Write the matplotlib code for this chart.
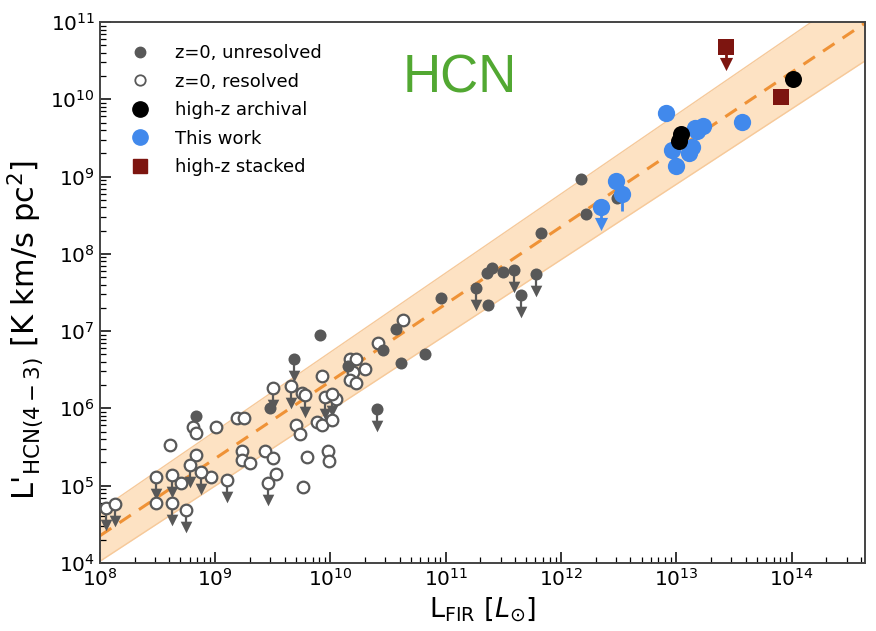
import numpy as np
import matplotlib
matplotlib.use("Agg")
import matplotlib.pyplot as plt
from matplotlib.lines import Line2D

# All luminosities stored as log10 values.
# L_FIR in L_sun, L'_HCN(4-3) in K km/s pc^2

# z=0, unresolved: detections
unres_lfir = [8.83, 9.48, 9.91, 10.15, 10.46, 10.57, 10.61, 10.82, 10.96, 11.37,
              11.36, 11.40, 11.50, 11.83, 12.17, 12.22, 12.49]
unres_lhcn = [5.90, 6.01, 6.95, 6.55, 6.76, 7.03, 6.59, 6.70, 7.43, 7.34,
              7.75, 7.82, 7.76, 8.27, 8.97, 8.51, 8.72]
# z=0, unresolved: upper limits
unres_ul_lfir = [9.68, 10.40, 11.26, 11.59, 11.65, 11.78]
unres_ul_lhcn = [6.64, 5.99, 7.56, 7.79, 7.47, 7.74]

# z=0, resolved: detections
res_lfir = [8.81, 8.83, 9.01, 9.19, 9.25, 8.61, 8.83, 8.70, 8.49, 8.96,
            9.23, 9.23, 9.30, 9.43, 9.50, 9.53, 9.75, 10.05, 9.88, 9.93,
            10.01, 9.70, 9.74, 9.93, 10.17, 10.22, 10.20, 10.30, 10.17, 10.22,
            10.41, 10.63, 9.80, 9.76, 9.98, 9.99]
res_lhcn = [5.76, 5.68, 5.76, 5.88, 5.88, 5.53, 5.40, 5.03, 4.78, 5.11,
            5.45, 5.33, 5.29, 5.45, 5.36, 5.15, 6.20, 6.12, 5.82, 5.79,
            5.85, 5.79, 5.67, 6.42, 6.64, 6.64, 6.47, 6.51, 6.37, 6.33,
            6.85, 7.14, 5.37, 4.98, 5.45, 5.32]
# z=0, resolved: upper limits
res_ul_lfir = [8.05, 8.13, 8.49, 8.63, 8.63, 8.75, 8.78, 8.88, 9.10, 9.46,
               9.50, 9.66, 9.78, 9.95, 10.01]
res_ul_lhcn = [4.71, 4.76, 5.11, 5.14, 4.78, 4.69, 5.27, 5.18, 5.07, 5.03,
               6.26, 6.29, 6.17, 6.15, 6.19]

# high-z archival
arch_lfir = [14.01, 13.04, 13.02]
arch_lhcn = [10.26, 9.55, 9.46]

# This work: detections (with lower error in dex)
work_lfir = [12.91, 13.16, 13.23, 13.18, 12.96, 13.14, 13.11, 13.00, 13.57, 12.48, 12.53]
work_lhcn = [9.82, 9.63, 9.65, 9.59, 9.34, 9.38, 9.30, 9.14, 9.71, 8.94, 8.77]
work_err_lo = [0.0, 0.0, 0.0, 0.0, 0.0, 0.0, 0.0, 0.0, 0.08, 0.0, 0.22]
# This work: upper limits
work_ul_lfir = [12.35]
work_ul_lhcn = [8.61]

# high-z stacked
stack_lfir = [13.91]
stack_lhcn = [10.03]
stack_ul_lfir = [13.43]
stack_ul_lhcn = [10.68]

# Linear fit in log space; the scatter band widens slowly with L_FIR
fit_slope = 1.0
fit_intercept = -3.65
band_width0 = 0.33      # half-width (dex) at L_FIR = 1e8
band_growth = 0.024     # extra dex per dex in L_FIR

GRAY = "#585858"
BLUE = "#4189ec"
DARKRED = "#7d1510"
ORANGE = "#ef9236"
BAND = "#fde2c3"

XMIN, XMAX = 1e8, 4.3e14
YMIN, YMAX = 1e4, 1e11


def lin(a):
    return 10.0 ** np.asarray(a, dtype=float)


def draw_limits(ax, lx, ly, color, zorder, lw=1.6, size=70):
    x = lin(lx)
    y = lin(ly)
    tip = y * 10 ** (-0.22)
    ax.vlines(x, tip, y, color=color, lw=lw, zorder=zorder)
    ax.scatter(x, tip, marker="v", s=size, color=color, lw=0, zorder=zorder)


fig = plt.figure(figsize=(8.76, 6.31), dpi=100)
ax = fig.add_axes([0.114, 0.108, 0.873, 0.857])
ax.set_xscale("log")
ax.set_yscale("log")

# fit line and scatter band
lx = np.linspace(np.log10(XMIN), np.log10(XMAX), 200)
ly = fit_slope * lx + fit_intercept
half = band_width0 + band_growth * (lx - 8.0)
xx = 10 ** lx
ax.fill_between(xx, 10 ** (ly - half), 10 ** (ly + half),
                color=BAND, lw=0, zorder=1)
ax.plot(xx, 10 ** (ly + half), color="#f6c99a", lw=1.0, zorder=1.5)
ax.plot(xx, 10 ** (ly - half), color="#f6c99a", lw=1.0, zorder=1.5)
ax.plot(xx, 10 ** ly, color=ORANGE, lw=2.2, ls=(0, (4.5, 3.2)), zorder=2)

# z=0 resolved
draw_limits(ax, res_ul_lfir, res_ul_lhcn, GRAY, 3)
ax.scatter(lin(res_lfir), lin(res_lhcn), s=70, facecolor="white",
           edgecolor=GRAY, lw=1.6, zorder=4)
ax.scatter(lin(res_ul_lfir), lin(res_ul_lhcn), s=70, facecolor="white",
           edgecolor=GRAY, lw=1.6, zorder=4)

# z=0 unresolved
draw_limits(ax, unres_ul_lfir, unres_ul_lhcn, GRAY, 3)
ax.scatter(lin(unres_lfir), lin(unres_lhcn), s=75, color=GRAY, lw=0, zorder=4)
ax.scatter(lin(unres_ul_lfir), lin(unres_ul_lhcn), s=75, color=GRAY, lw=0, zorder=4)

# This work
wy = lin(work_lhcn)
ax.vlines(lin(work_lfir), wy * 10 ** (-np.asarray(work_err_lo)), wy,
          color=BLUE, lw=2.0, zorder=5)
draw_limits(ax, work_ul_lfir, work_ul_lhcn, BLUE, 5, lw=2.0, size=90)
ax.scatter(lin(work_lfir), wy, s=155, color=BLUE, lw=0, zorder=6)
ax.scatter(lin(work_ul_lfir), lin(work_ul_lhcn), s=155, color=BLUE, lw=0, zorder=6)

# high-z archival
ax.scatter(lin(arch_lfir), lin(arch_lhcn), s=150, color="black", lw=0, zorder=7)

# high-z stacked
draw_limits(ax, stack_ul_lfir, stack_ul_lhcn, DARKRED, 6, lw=2.0, size=90)
ax.scatter(lin(stack_lfir), lin(stack_lhcn), s=130, marker="s", color=DARKRED, lw=0, zorder=7)
ax.scatter(lin(stack_ul_lfir), lin(stack_ul_lhcn), s=130, marker="s", color=DARKRED, lw=0, zorder=7)

ax.set_xlim(XMIN, XMAX)
ax.set_ylim(YMIN, YMAX)

ax.tick_params(which="both", direction="in", top=False, right=False,
               labelsize=14.5, colors="black")
ax.tick_params(which="major", length=8, width=1.1)
ax.tick_params(which="minor", length=4, width=0.9)
for sp in ax.spines.values():
    sp.set_color("#444444")
    sp.set_linewidth(1.4)

ax.set_xlabel(r"L$_{\rm FIR}$ [$L_{\odot}$]", fontsize=19.5, labelpad=4)
ax.set_ylabel(r"L'$_{\rm HCN(4-3)}$ [K km/s pc$^2$]", fontsize=22)
ax.yaxis.set_label_coords(-0.07, 0.43)

ax.text(0.47, 0.895, "HCN", transform=ax.transAxes, color="#52a832",
        fontsize=38, family="Liberation Sans", ha="center", va="center")

handles = [
    Line2D([], [], ls="", marker="o", ms=7.5, color=GRAY, mec=GRAY),
    Line2D([], [], ls="", marker="o", ms=7.5, mfc="white", mec=GRAY, mew=1.3),
    Line2D([], [], ls="", marker="o", ms=11, color="black"),
    Line2D([], [], ls="", marker="o", ms=11, color=BLUE),
    Line2D([], [], ls="", marker="s", ms=10, color=DARKRED),
]
labels = ["z=0, unresolved", "z=0, resolved", "high-z archival", "This work", "high-z stacked"]
ax.legend(handles, labels, loc="upper left", frameon=False, fontsize=13,
          handletextpad=0.95, labelspacing=0.58, borderaxespad=0.4,
          bbox_to_anchor=(0.0095, 0.986))

fig.savefig("out.png", dpi=100)
